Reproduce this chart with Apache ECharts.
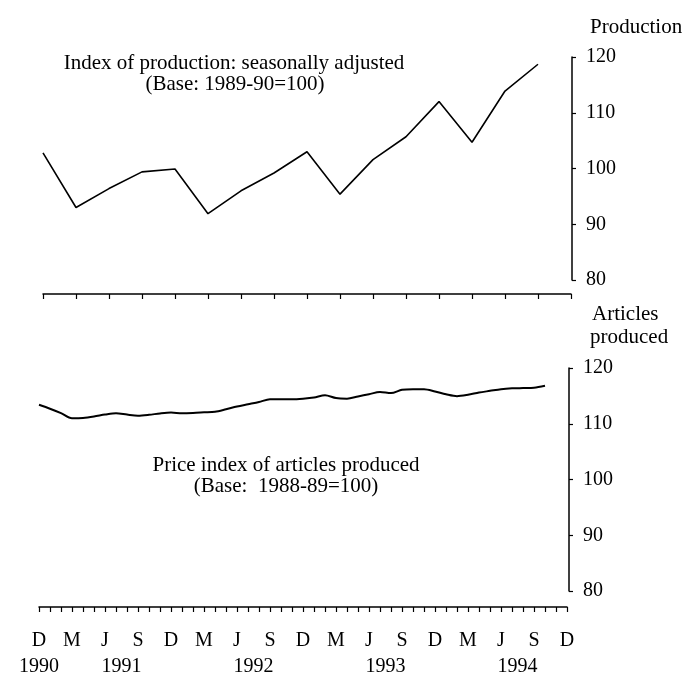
<!DOCTYPE html>
<html>
<head>
<meta charset="utf-8">
<script src="https://cdn.jsdelivr.net/npm/echarts@6/dist/echarts.min.js"></script>
<style>
html,body{margin:0;padding:0;background:#fff;}
#chart{width:698px;height:677px;}
</style>
</head>
<body>
<div id="chart"></div>
<script>
// ---- data ----
const quarterLabels = ['D','M','J','S','D','M','J','S','D','M','J','S','D','M','J','S','D'];
const production = [102.8, 93.0, 96.4, 99.4, 99.9, 91.9, 96.0, 99.2, 103.0, 95.4, 101.6, 105.7, 112.0, 104.7, 113.9, 118.7];
const priceIndex = [113.4, 112.7, 111.9, 111.0, 111.05, 111.3, 111.65, 111.9, 111.65, 111.45, 111.6, 111.85,
  112.0, 111.9, 111.95, 112.05, 112.15, 112.6, 113.1, 113.5, 113.9, 114.4, 114.4, 114.4,
  114.5, 114.7, 115.1, 114.6, 114.5, 114.9, 115.3, 115.7, 115.5, 116.1, 116.2, 116.2,
  115.8, 115.3, 114.95, 115.2, 115.6, 115.9, 116.2, 116.35, 116.4, 116.45, 116.8];
const monthCount = 49; // Dec 1990 .. Dec 1994
const yearPositions = [0, 7.5, 19.5, 31.5, 43.5];
const yearNames = ['1990', '1991', '1992', '1993', '1994'];
const yTicks = [80, 90, 100, 110, 120];

const monthCats = [];
for (let i = 0; i < monthCount; i++) monthCats.push(String(i));

const FONT = 'Liberation Serif';
const black = '#000';
const txt = {fontFamily: FONT, fontSize: 20, color: black};
const TF = '21px "Liberation Serif"';

function yAxisCfg(grid, offset) {
  return {
    type: 'value', gridIndex: grid, position: 'right', offset: offset,
    min: yTicks[0], max: yTicks[yTicks.length - 1], interval: 10,
    axisLine: {show: true, onZero: false, lineStyle: {color: black, width: 1.5}},
    axisTick: {show: true, length: 4, lineStyle: {color: black, width: 1.2}},
    splitLine: {show: false},
    axisLabel: Object.assign({margin: 14}, txt)
  };
}

const chart = echarts.init(document.getElementById('chart'), null, {renderer: 'canvas'});
chart.setOption({
  backgroundColor: '#fff',
  animation: false,
  grid: [
    {left: 43, top: 57, width: 528, height: 223},
    {left: 39, top: 368, width: 528, height: 223},
    {left: 39, top: 368, width: 528, height: 223}
  ],
  xAxis: [
    {
      type: 'category', gridIndex: 0, data: quarterLabels, boundaryGap: false, offset: 14,
      axisLine: {show: true, onZero: false, lineStyle: {color: black, width: 1.5}},
      axisTick: {show: true, interval: 0, length: 5, lineStyle: {color: black, width: 1.2}},
      axisLabel: {show: false}, splitLine: {show: false}
    },
    {
      type: 'category', gridIndex: 1, data: monthCats, boundaryGap: false, offset: 16,
      axisLine: {show: true, onZero: false, lineStyle: {color: black, width: 1.5}},
      axisTick: {show: true, interval: 0, length: 5, lineStyle: {color: black, width: 1.2}},
      axisLabel: Object.assign({
        interval: function (i) { return i % 3 === 0; },
        formatter: function (v, i) { return quarterLabels[Math.round(i / 3)] || ''; },
        margin: 24
      }, txt),
      splitLine: {show: false}
    },
    {
      type: 'value', gridIndex: 2, position: 'bottom', min: 0, max: monthCount - 1, interval: 0.5, offset: 16,
      axisLine: {show: false, onZero: false}, axisTick: {show: false}, splitLine: {show: false},
      axisLabel: Object.assign({
        margin: 51,
        formatter: function (v) {
          const k = yearPositions.indexOf(v);
          return k >= 0 ? yearNames[k] : '';
        }
      }, txt)
    }
  ],
  yAxis: [
    yAxisCfg(0, 1),
    yAxisCfg(1, 2),
    {type: 'value', gridIndex: 2, show: false, min: 0, max: 1}
  ],
  series: [
    {
      type: 'line', xAxisIndex: 0, yAxisIndex: 0, data: production,
      symbol: 'none', lineStyle: {color: black, width: 1.6}
    },
    {
      type: 'line', xAxisIndex: 1, yAxisIndex: 1, data: priceIndex,
      symbol: 'none', smooth: 0.3, lineStyle: {color: black, width: 2}
    }
  ],
  graphic: [
    {type: 'text', x: 234, y: 63, style: {text: 'Index of production: seasonally adjusted', font: TF, fill: black, textAlign: 'center', textVerticalAlign: 'middle'}},
    {type: 'text', x: 235, y: 84, style: {text: '(Base: 1989-90=100)', font: TF, fill: black, textAlign: 'center', textVerticalAlign: 'middle'}},
    {type: 'text', x: 286, y: 465, style: {text: 'Price index of articles produced', font: TF, fill: black, textAlign: 'center', textVerticalAlign: 'middle'}},
    {type: 'text', x: 286, y: 486, style: {text: '(Base:  1988-89=100)', font: TF, fill: black, textAlign: 'center', textVerticalAlign: 'middle'}},
    {type: 'text', x: 590, y: 27, style: {text: 'Production', font: TF, fill: black, textAlign: 'left', textVerticalAlign: 'middle'}},
    {type: 'text', x: 592, y: 314, style: {text: 'Articles', font: TF, fill: black, textAlign: 'left', textVerticalAlign: 'middle'}},
    {type: 'text', x: 590, y: 337, style: {text: 'produced', font: TF, fill: black, textAlign: 'left', textVerticalAlign: 'middle'}}
  ]
});
</script>
</body>
</html>
